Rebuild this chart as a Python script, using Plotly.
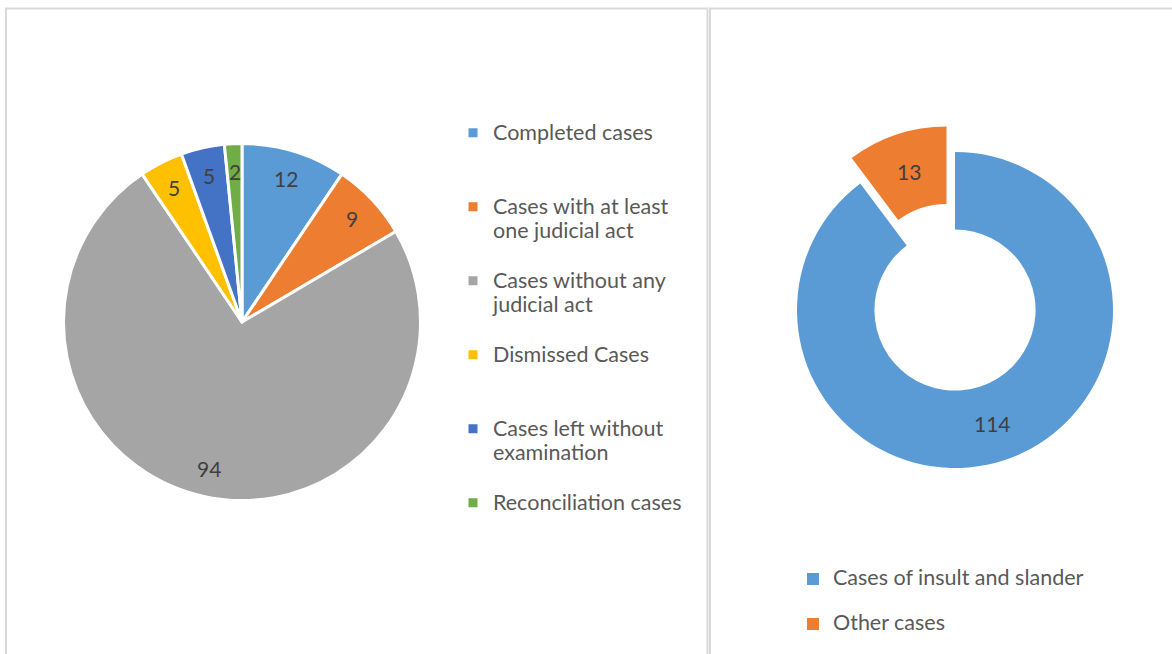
import math
import plotly.graph_objects as go

W, H = 1172, 654

# ---------------- data ----------------
case_labels = [
    "Completed cases",
    "Cases with at least<br>one judicial act",
    "Cases without any<br>judicial act",
    "Dismissed Cases",
    "Cases left without<br>examination",
    "Reconciliation cases",
]
case_values = [12, 9, 94, 5, 5, 2]
case_colors = ["#5B9BD5", "#ED7D31", "#A5A5A5", "#FFC000", "#4472C4", "#70AD47"]

type_labels = ["Cases of insult and slander", "Other cases"]
type_values = [114, 13]
type_colors = ["#5B9BD5", "#ED7D31"]
type_pull = [0, 0.17]

FONT = "Lato"
LEG_COLOR = "#595959"
LBL_COLOR = "#404040"
TXT_SIZE = 21.5


def px_x(x):
    return x / W


def px_y(y):
    return 1 - y / H


def legend_text(label, nlines, size):
    parts = label.split("<br>")
    parts = [f'<span style="font-size:{size}px">{p}</span>' for p in parts]
    while len(parts) < nlines:
        parts.append(" ")
    return "<br>".join(parts)


# geometry (pixels)
L_CX, L_CY, L_R = 242, 322, 177
R_CX, R_CY, R_R = 955, 310, 158
HOLE = 0.51
maxpull = max(type_pull)

fig = go.Figure()

lr = L_R + 1.5  # compensate for the white slice outline
fig.add_trace(go.Pie(
    labels=[legend_text(l, 3, TXT_SIZE) for l in case_labels],
    values=case_values,
    sort=False,
    direction="clockwise",
    rotation=0,
    marker=dict(colors=case_colors, line=dict(color="white", width=3)),
    textinfo="none",
    hoverinfo="label+value",
    domain=dict(x=[px_x(L_CX - lr), px_x(L_CX + lr)],
                y=[px_y(L_CY + lr), px_y(L_CY - lr)]),
    legend="legend",
))

rb = R_R * (1 + maxpull)
type_leg_lines = [2, 1]
fig.add_trace(go.Pie(
    labels=[legend_text(l, n, TXT_SIZE) for l, n in zip(type_labels, type_leg_lines)],
    values=type_values,
    sort=False,
    direction="clockwise",
    rotation=0,
    hole=HOLE,
    pull=type_pull,
    marker=dict(colors=type_colors, line=dict(width=0)),
    textinfo="none",
    hoverinfo="label+value",
    domain=dict(x=[px_x(R_CX - rb), px_x(R_CX + rb)],
                y=[px_y(R_CY + rb), px_y(R_CY - rb)]),
    legend="legend2",
))

# data labels placed along each slice's mid-angle
annotations = []
tot = sum(case_values)
cum = 0
for v in case_values:
    mid = (cum + v / 2) / tot * 2 * math.pi
    cum += v
    rr = 0.85 * L_R
    x = L_CX + rr * math.sin(mid)
    y = L_CY - rr * math.cos(mid)
    annotations.append(dict(x=px_x(x), y=px_y(y), xref="paper", yref="paper",
                            xanchor="center", yanchor="middle",
                            text=str(v), showarrow=False,
                            font=dict(family=FONT, size=21, color=LBL_COLOR)))

tot = sum(type_values)
cum = 0
for v, p in zip(type_values, type_pull):
    mid = (cum + v / 2) / tot * 2 * math.pi
    cum += v
    cx = R_CX + p * R_R * math.sin(mid)
    cy = R_CY - p * R_R * math.cos(mid)
    rr = R_R * (1 + HOLE) / 2
    x = cx + rr * math.sin(mid)
    y = cy - rr * math.cos(mid)
    annotations.append(dict(x=px_x(x), y=px_y(y), xref="paper", yref="paper",
                            xanchor="center", yanchor="middle",
                            text=str(v), showarrow=False,
                            font=dict(family=FONT, size=21, color=LBL_COLOR)))

# panel frames
shapes = [
    dict(type="rect", xref="paper", yref="paper",
         x0=px_x(6), x1=px_x(707.5), y0=px_y(700), y1=px_y(8.5),
         line=dict(color="#D9D9D9", width=2)),
    dict(type="rect", xref="paper", yref="paper",
         x0=px_x(710), x1=px_x(1200), y0=px_y(700), y1=px_y(8.5),
         line=dict(color="#D9D9D9", width=2)),
]

LEG1_FS = 18.2
LEG2_FS = 16.15

fig.update_layout(
    width=W, height=H,
    margin=dict(l=0, r=0, t=0, b=0, autoexpand=False),
    paper_bgcolor="white",
    plot_bgcolor="white",
    font=dict(family=FONT, color=LEG_COLOR),
    showlegend=True,
    legend=dict(x=px_x(453), y=px_y(114.5), xanchor="left", yanchor="top",
                font=dict(family=FONT, size=LEG1_FS, color=LEG_COLOR),
                valign="top", bgcolor="rgba(0,0,0,0)", borderwidth=0),
    legend2=dict(x=px_x(793), y=px_y(562), xanchor="left", yanchor="top",
                 font=dict(family=FONT, size=LEG2_FS, color=LEG_COLOR),
                 valign="top", bgcolor="rgba(0,0,0,0)", borderwidth=0),
    annotations=annotations,
    shapes=shapes,
)

fig.write_html("out.html", config={"displayModeBar": False},
               post_script="document.body.style.margin='0';")
